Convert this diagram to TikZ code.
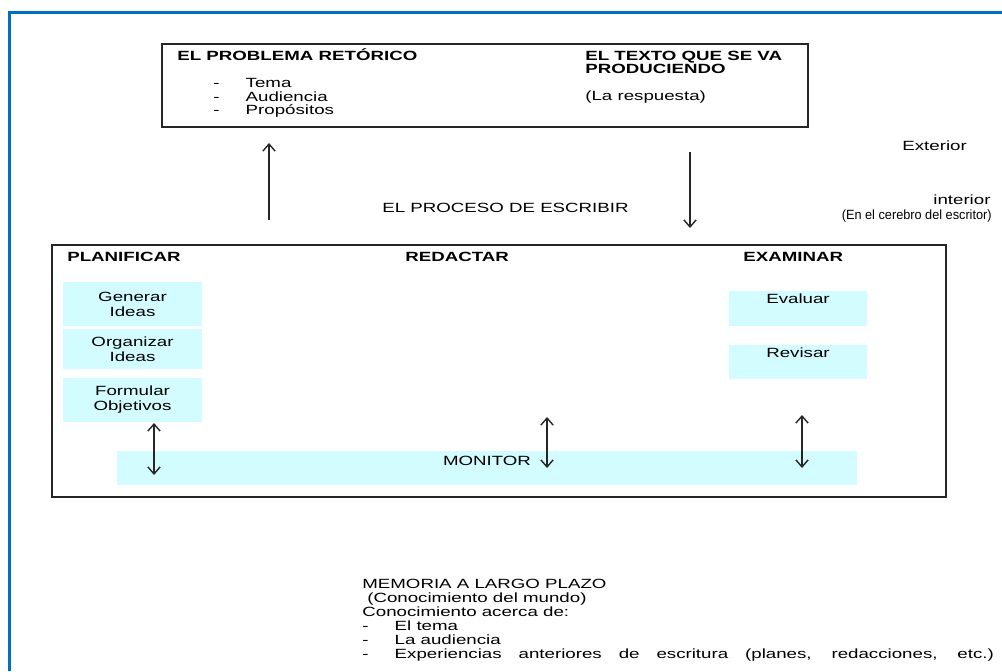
\documentclass[tikz,border=0pt]{standalone}
\usepackage{fontspec}
\setmainfont{Liberation Sans}[FakeStretch=1.4]
\usepackage{tikz}
\usetikzlibrary{positioning, arrows.meta}
\definecolor{azulmarco}{RGB}{0,112,192}
\definecolor{celeste}{RGB}{210,252,255}
\tikzstyle{flecha} = [->,>={Straight Barb[length=4pt,width=7pt]}, line width=0.8pt, black!85]
\tikzstyle{doble} = [<->,>={Straight Barb[length=4pt,width=7pt]}, line width=0.8pt, black!85]
\tikzstyle{caja} = [draw=black!85, line width=1.1pt]
\tikzstyle{celda} = [fill=celeste, inner sep=0pt, align=center, font=\fontsize{7.6}{8.5}\selectfont]
\tikzstyle{texto} = [inner sep=0pt, align=left, font=\fontsize{7.6}{7.94}\selectfont]
\tikzstyle{titulo} = [inner sep=0pt, align=left, font=\fontsize{7.6}{6.8}\selectfont\bfseries]
\newcommand{\guion}{\makebox[18.4pt][l]{-}}

\begin{document}
\begin{tikzpicture}
\useasboundingbox (0,0) rectangle (20.04,13.42);
\draw[azulmarco, line width=1.2pt] (0.19,0) -- (0.19,13.17) -- (20.04,13.17);

% exterior: problema y texto
\draw[caja] (3.24,12.54) rectangle (16.16,10.88);
\node[titulo, anchor=base west] (problema) at (3.54,12.20) {EL PROBLEMA RETÓRICO};
\node[texto, anchor=base west] (temas) at (4.26,11.12) {\guion Tema\\\guion Audiencia\\\guion Propósitos};
\node[titulo, anchor=base west] (texto) at (11.70,11.94) {EL TEXTO QUE SE VA\\PRODUCIENDO};
\node[texto, anchor=base west] (respuesta) at (11.70,11.40) {(La respuesta)};

\coordinate (sube0) at (5.38,9.02);
\coordinate (sube1) at (5.38,10.56);
\coordinate (baja0) at (13.80,10.38);
\coordinate (baja1) at (13.80,8.86);
\draw[flecha] (sube0) -- (sube1);
\draw[flecha] (baja0) -- (baja1);

\node[texto, anchor=base west] (escribir) at (7.64,9.16) {EL PROCESO DE ESCRIBIR};
\node[texto, anchor=base west] (exterior) at (18.04,10.40) {Exterior};
\node[texto, anchor=base west] (interior) at (18.66,9.32) {interior};
\node[texto, anchor=base east] (cerebro) at (19.84,9.02) {\scalebox{0.68}[1]{(En el cerebro del escritor)}};

% interior: el proceso
\draw[caja] (1.04,8.52) rectangle (18.92,3.48);
\node[titulo, anchor=base west] (planificar) at (1.34,8.18) {PLANIFICAR};
\node[titulo, anchor=base west] (redactar) at (8.10,8.18) {REDACTAR};
\node[titulo, anchor=base west] (examinar) at (14.86,8.18) {EXAMINAR};

\node[celda, minimum width=2.78cm, minimum height=0.88cm] (generar) at (2.65,7.34) {Generar\\Ideas};
\node[celda, minimum width=2.78cm, minimum height=0.80cm] (organizar) at (2.65,6.44) {Organizar\\Ideas};
\node[celda, minimum width=2.78cm, minimum height=0.88cm] (formular) at (2.65,5.42) {Formular\\Objetivos};
\node[celda, minimum width=2.76cm, text height=0.26cm, text depth=0.44cm] (evaluar) at (15.96,7.25) {Evaluar};
\node[celda, minimum width=2.76cm, text height=0.26cm, text depth=0.42cm] (revisar) at (15.96,6.18) {Revisar};
\node[celda, minimum width=14.8cm, text height=0.28cm, text depth=0.40cm] (monitor) at (9.74,4.06) {MONITOR};

\coordinate (m1a) at (3.08,4.96);
\coordinate (m1b) at (3.08,3.92);
\coordinate (m2a) at (10.94,5.08);
\coordinate (m2b) at (10.94,4.06);
\coordinate (m3a) at (16.04,5.12);
\coordinate (m3b) at (16.04,4.06);
\draw[doble] (m1a) -- (m1b);
\draw[doble] (m2a) -- (m2b);
\draw[doble] (m3a) -- (m3b);

% memoria a largo plazo
\node[texto, anchor=base west] (memoria) at (7.24,0.26) {MEMORIA A LARGO PLAZO\\
\hspace*{2.8pt}(Conocimiento del mundo)\\
Conocimiento acerca de:\\
\guion El tema\\
\guion La audiencia\\
\guion\makebox[341pt][s]{Experiencias anteriores de escritura (planes, redacciones, etc.)}};
\end{tikzpicture}
\end{document}
